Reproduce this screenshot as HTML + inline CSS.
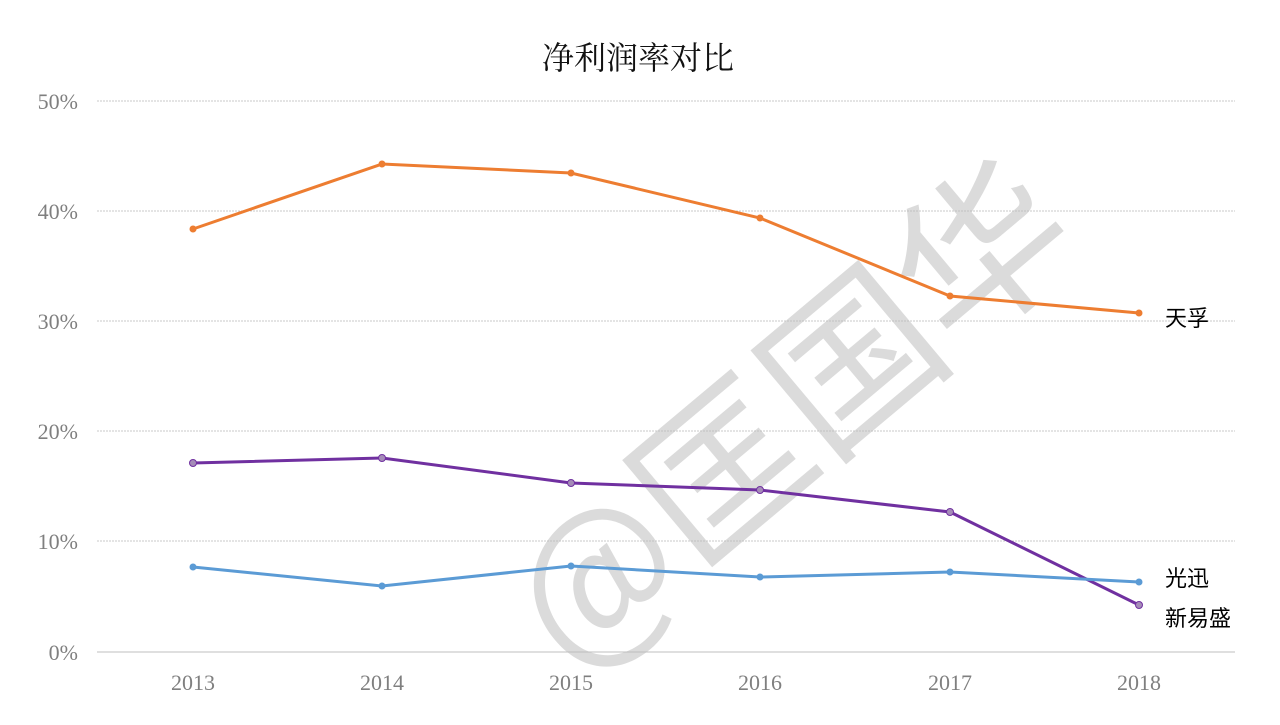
<!DOCTYPE html>
<html><head><meta charset="utf-8"><style>
body{margin:0;background:#fff;width:1280px;height:720px;overflow:hidden}
</style></head><body>
<svg width="1280" height="720" xmlns="http://www.w3.org/2000/svg">
<text x="638" y="69" text-anchor="middle" font-family="Liberation Serif, Noto Serif CJK SC, serif" font-size="32" fill="#111">净利润率对比</text>
<g stroke="#c8c8c8" stroke-width="1" stroke-dasharray="2,1">
<line x1="97" y1="101" x2="1235" y2="101"/>
<line x1="97" y1="211" x2="1235" y2="211"/>
<line x1="97" y1="321" x2="1235" y2="321"/>
<line x1="97" y1="431" x2="1235" y2="431"/>
<line x1="97" y1="541" x2="1235" y2="541"/>
</g>
<line x1="97" y1="652" x2="1235" y2="652" stroke="#bfbfbf" stroke-width="1"/>
<g font-family="Liberation Serif, serif" font-size="22" fill="#7f7f7f" text-anchor="end">
<text x="78" y="109">50%</text>
<text x="78" y="219">40%</text>
<text x="78" y="329">30%</text>
<text x="78" y="439">20%</text>
<text x="78" y="549">10%</text>
<text x="78" y="660">0%</text>
</g>
<g font-family="Liberation Serif, serif" font-size="22" fill="#7f7f7f" text-anchor="middle">
<text x="193" y="690">2013</text><text x="382" y="690">2014</text><text x="571" y="690">2015</text>
<text x="760" y="690">2016</text><text x="950" y="690">2017</text><text x="1139" y="690">2018</text>
</g>
<text transform="translate(800,425) rotate(-40)" text-anchor="middle" dominant-baseline="middle" font-family="Noto Sans CJK SC, sans-serif" font-weight="400" font-size="170" fill="#bdbdbd" fill-opacity="0.55">@匡国华</text>
<polyline fill="none" stroke="#ed7d31" stroke-width="3" points="193,229 382,164 571,173 760,218 950,296 1139,313"/>
<polyline fill="none" stroke="#7030a0" stroke-width="3" points="193,463 382,458 571,483 760,490 950,512 1139,605"/>
<polyline fill="none" stroke="#5b9bd5" stroke-width="3" points="193,567 382,586 571,566 760,577 950,572 1139,582"/>
<g fill="#ed7d31"><circle cx="193" cy="229" r="3.5"/><circle cx="382" cy="164" r="3.5"/><circle cx="571" cy="173" r="3.5"/><circle cx="760" cy="218" r="3.5"/><circle cx="950" cy="296" r="3.5"/><circle cx="1139" cy="313" r="3.5"/></g>
<g fill="#a58cb8" stroke="#7030a0" stroke-width="1"><circle cx="193" cy="463" r="3.5"/><circle cx="382" cy="458" r="3.5"/><circle cx="571" cy="483" r="3.5"/><circle cx="760" cy="490" r="3.5"/><circle cx="950" cy="512" r="3.5"/><circle cx="1139" cy="605" r="3.5"/></g>
<g fill="#5b9bd5"><circle cx="193" cy="567" r="3.5"/><circle cx="382" cy="586" r="3.5"/><circle cx="571" cy="566" r="3.5"/><circle cx="760" cy="577" r="3.5"/><circle cx="950" cy="572" r="3.5"/><circle cx="1139" cy="582" r="3.5"/></g>
<g font-family="Liberation Sans, Noto Sans CJK SC, sans-serif" font-size="22" fill="#000">
<text x="1165" y="326">天孚</text>
<text x="1165" y="586">光迅</text>
<text x="1165" y="626">新易盛</text>
</g>
</svg>
</body></html>
